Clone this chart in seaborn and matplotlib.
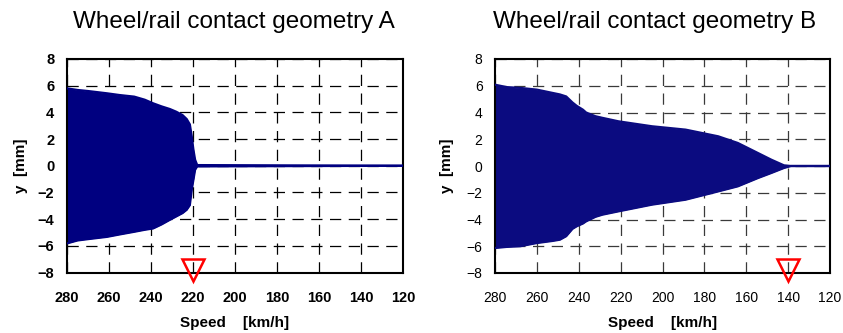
import matplotlib
matplotlib.use("Agg")
import matplotlib.pyplot as plt
import seaborn as sns
import pandas as pd

# ---- data ----
A_speed = [280, 275, 270, 261, 255, 248, 243, 239, 235, 231, 228, 225, 223, 221.5, 220.6, 219.8, 219, 218, 120]
A_upper = [5.8, 5.68, 5.6, 5.43, 5.3, 5.18, 4.95, 4.68, 4.45, 4.25, 4.05, 3.8, 3.5, 3.1, 2.2, 1.2, 0.45, 0.05, 0.0]
A_lower = [-5.82, -5.6, -5.5, -5.33, -5.15, -4.95, -4.8, -4.7, -4.4, -4.05, -3.8, -3.55, -3.3, -2.95, -1.8, -1.05, -0.3, -0.05, 0.0]

B_speed = [280, 274.5, 268, 260, 252.4, 249, 246, 243, 241, 238, 236.5, 232, 228.7, 221, 205, 189, 173.4, 164, 154.4, 148, 142, 138.6, 120]
B_upper = [6.08, 5.9, 5.84, 5.71, 5.46, 5.35, 5.2, 4.75, 4.5, 4.21, 4.0, 3.72, 3.6, 3.34, 2.97, 2.72, 2.22, 1.72, 0.97, 0.47, 0.05, 0.0, 0.0]
B_lower = [-6.13, -6.05, -6.0, -5.76, -5.6, -5.51, -5.25, -4.7, -4.51, -4.3, -4.14, -3.8, -3.64, -3.39, -2.89, -2.52, -1.9, -1.52, -0.9, -0.52, -0.15, 0.0, 0.0]

titles = ["Wheel/rail contact geometry A", "Wheel/rail contact geometry B"]
critical_speed = [220, 140]
x_ticks = [280, 260, 240, 220, 200, 180, 160, 140, 120]
y_ticks = [-8, -6, -4, -2, 0, 2, 4, 6, 8]

sns.set_style("white")
plt.rcParams["font.family"] = ["Liberation Sans", "DejaVu Sans"]
plt.rcParams["text.color"] = "black"
plt.rcParams["axes.labelcolor"] = "black"
plt.rcParams["xtick.color"] = "black"
plt.rcParams["ytick.color"] = "black"

fig = plt.figure(figsize=(8.43, 3.33), dpi=100)
W, H = 843, 333
boxes = [(67, 59, 403, 272.5), (495, 59, 830, 273)]
title_x = [234, 655]
navy = ["#000080", "#0b0b80"]
grid_col = ["#000000", "#3a3a3a"]
tick_weight = ["bold", "normal"]
tick_size = [10.5, 10]
ylabel_pad = [7, 9]

datasets = [(A_speed, A_upper, A_lower), (B_speed, B_upper, B_lower)]

for i, (sp, up, lo) in enumerate(datasets):
    x0, y0, x1, y1 = boxes[i]
    ax = fig.add_axes([x0 / W, 1 - y1 / H, (x1 - x0) / W, (y1 - y0) / H])
    df = pd.DataFrame({"speed": sp, "upper": up, "lower": lo})
    ax.fill_between(df["speed"], df["lower"], df["upper"], color=navy[i], lw=0, zorder=2)
    sns.lineplot(data=df, x="speed", y="upper", ax=ax, color=navy[i], lw=1.6, zorder=3,
                 estimator=None, sort=False)
    sns.lineplot(data=df, x="speed", y="lower", ax=ax, color=navy[i], lw=1.6, zorder=3,
                 estimator=None, sort=False)
    ax.plot([critical_speed[i]], [-7.8], marker="v", ms=16, mfc="none", mec="#ff0000",
            mew=1.8, clip_on=False, zorder=5)

    ax.set_xlim(280, 120)
    ax.set_ylim(-8, 8)
    ax.set_xticks(x_ticks)
    ax.set_yticks(y_ticks)
    ax.set_axisbelow(True)
    ax.grid(True, color=grid_col[i], linestyle=(0, (9, 6)), lw=0.9)
    ax.tick_params(length=0, labelsize=tick_size[i])
    ax.tick_params(axis="x", pad=13)
    ax.tick_params(axis="y", pad=9)
    for lab in ax.get_xticklabels() + ax.get_yticklabels():
        lab.set_fontweight(tick_weight[i])
    for s in ax.spines.values():
        s.set_color("black")
        s.set_linewidth(1.5)
    ax.set_xlabel("Speed    [km/h]", fontsize=11, fontweight="bold", labelpad=8)
    ax.set_ylabel("y  [mm]", fontsize=11, fontweight="bold", labelpad=ylabel_pad[i])
    fig.text(title_x[i] / W, 1 - 22 / H, titles[i], fontsize=17.5, ha="center", va="center")

fig.savefig("out.png", dpi=100)
